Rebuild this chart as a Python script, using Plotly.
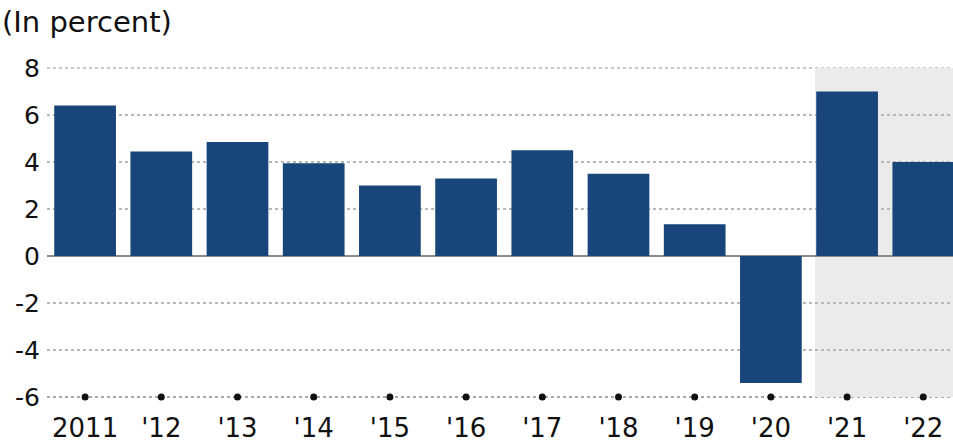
import plotly.graph_objects as go

years = ["2011", "'12", "'13", "'14", "'15", "'16", "'17", "'18", "'19", "'20", "'21", "'22"]
growth = [6.4, 4.45, 4.85, 3.95, 3.0, 3.3, 4.5, 3.5, 1.35, -5.4, 7.0, 4.0]
y_ticks = [8, 6, 4, 2, 0, -2, -4, -6]
shade_start = 9.58  # shaded forecast region begins after '20 bar

xs = list(range(len(years)))
font_family = "DejaVu Sans, Liberation Sans, Arial"

fig = go.Figure()
fig.add_trace(go.Bar(
    x=xs, y=growth, width=0.81,
    marker=dict(color="#18457a", line=dict(width=0)),
    hoverinfo="skip",
))

fig.add_shape(type="rect", xref="x", yref="y", x0=shade_start, x1=12.0,
              y0=-6, y1=8, fillcolor="#ebebeb", line=dict(width=0), layer="below")
# edge gridlines (top and bottom) that plotly omits at the range boundary
fig.add_shape(type="line", xref="paper", yref="y", x0=0, x1=1, y0=8, y1=8,
              line=dict(color="#b8b8b8", width=1.5, dash="dot"), layer="between")
fig.add_shape(type="line", xref="paper", yref="y", x0=0, x1=1, y0=-6, y1=-6,
              line=dict(color="#8c8c8c", width=1.5, dash="dot"), layer="between")

fig.add_trace(go.Scatter(
    x=xs, y=[-6] * len(xs), mode="markers",
    marker=dict(color="#111111", size=7, line=dict(width=0)),
    cliponaxis=False, hoverinfo="skip",
))

fig.add_annotation(text="(In percent)", xref="paper", yref="paper",
                   x=-47/906, y=1 + (68 - 23) / 329, xanchor="left", yanchor="middle",
                   showarrow=False, font=dict(size=29, color="#111111", family=font_family))

fig.update_layout(
    width=953, height=448,
    margin=dict(l=47, r=0, t=67, b=50),
    paper_bgcolor="white", plot_bgcolor="white",
    showlegend=False,
    font=dict(family=font_family, color="#111111", size=26),
    xaxis=dict(range=[-0.5, 11.39], tickvals=xs, ticktext=years,
               showgrid=False, zeroline=False, showline=False, ticks="",
               ticklabelstandoff=12,
               tickfont=dict(size=26), fixedrange=True),
    yaxis=dict(range=[-6.04, 8.04], tickvals=y_ticks, ticktext=[str(v) for v in y_ticks],
               showgrid=True, gridcolor="#b8b8b8", griddash="dot", gridwidth=1.5,
               zeroline=True, zerolinecolor="#8c8c8c", zerolinewidth=1.5,
               showline=False, ticks="", ticklabelstandoff=6,
               tickfont=dict(size=25), fixedrange=True),
)

fig.write_html("out.html")
